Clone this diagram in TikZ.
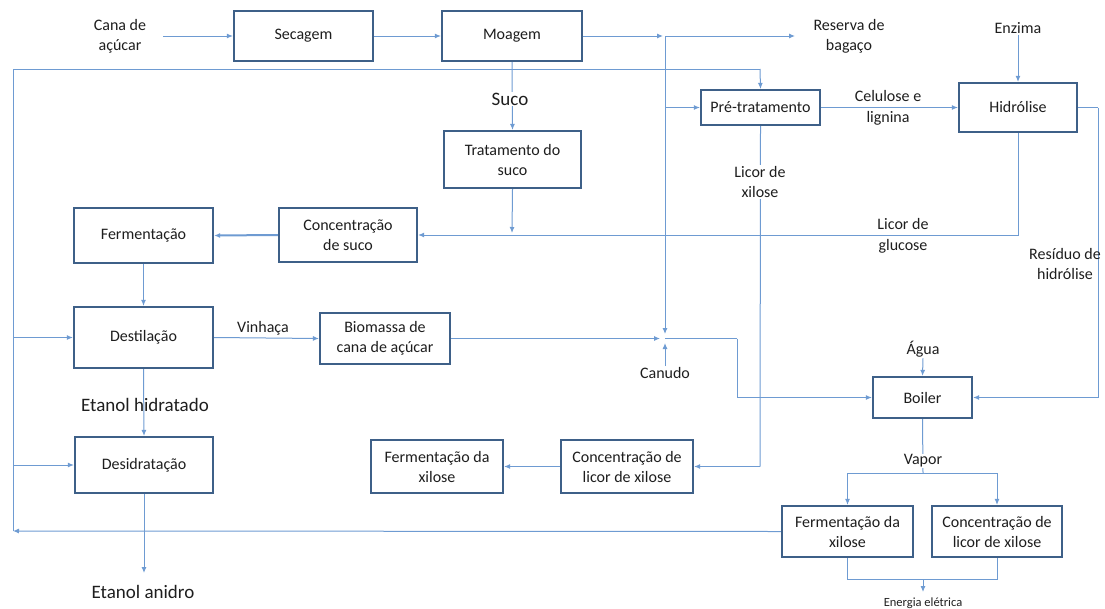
\documentclass[tikz,border=0pt]{standalone}
\usepackage{fontspec}
\setmainfont{Carlito}
\usetikzlibrary{arrows.meta}
\definecolor{boxline}{RGB}{62,96,136}
\definecolor{flow}{RGB}{110,155,210}
\definecolor{ink}{RGB}{30,30,30}
\tikzset{
  unit/.style={draw=boxline, line width=2.2pt, fill=white, align=center, text=ink,
    font=\fontsize{16}{20}\selectfont, inner sep=2pt},
  lbl/.style={align=center, text=ink, font=\fontsize{16}{20}\selectfont, inner sep=1pt},
  biglbl/.style={align=center, text=ink, font=\fontsize{19}{22}\selectfont, inner sep=1pt},
  pipe/.style={draw=flow, line width=1pt},
  feed/.style={pipe, -{Latex[length=6pt,width=5pt]}},
}
\begin{document}
\begin{tikzpicture}[x=1pt,y=-1pt]
\useasboundingbox (0,0) rectangle (1105,608);

% process units
\node[unit, minimum width=139pt, minimum height=50pt] (sec) at (303.5,36) {Secagem};
\node[unit, minimum width=140pt, minimum height=50pt] (moa) at (512,36) {Moagem};
\node[unit, minimum width=119pt, minimum height=35pt] (pre) at (760.5,107.5) {Pré-tratamento};
\node[unit, minimum width=118pt, minimum height=49pt] (hid) at (1018,107.5) {Hidrólise};
\node[unit, minimum width=137pt, minimum height=57pt] (trat) at (512.5,159.5) {Tratamento do\\suco};
\node[unit, minimum width=139pt, minimum height=55pt] (ferm) at (143.5,235.5) {Fermentação};
\node[unit, minimum width=138pt, minimum height=54pt] (csuco) at (348,235) {Concentração\\de suco};
\node[unit, minimum width=139pt, minimum height=61pt] (dest) at (143.5,337.5) {Destilação};
\node[unit, minimum width=130pt, minimum height=51pt] (bio) at (385,338.5) {Biomassa de\\cana de açúcar};
\node[unit, minimum width=99pt, minimum height=41pt] (boil) at (922.5,397.5) {Boiler};
\node[unit, minimum width=138pt, minimum height=56pt] (desid) at (144,465) {Desidratação};
\node[unit, minimum width=132pt, minimum height=53pt] (fxa) at (437,466.5) {Fermentação da\\xilose};
\node[unit, minimum width=132pt, minimum height=53pt] (clxa) at (627,466.5) {Concentração de\\licor de xilose};
\node[unit, minimum width=131pt, minimum height=51pt] (fxb) at (847.5,531.5) {Fermentação da\\xilose};
\node[unit, minimum width=130pt, minimum height=51pt] (clxb) at (997,531.5) {Concentração de\\licor de xilose};

% streams without a unit
\node[lbl] (cana) at (120,36) {Cana de\\açúcar};
\node[lbl] (reserva) at (849,36) {Reserva de\\bagaço};
\node[lbl] (enzima) at (1018,28) {Enzima};
\node[lbl] (canudo) at (665,373) {Canudo};
\node[lbl] (agua) at (923,349) {Água};
\node[biglbl] (anidro) at (143,592) {Etanol anidro};
\node[lbl, font=\fontsize{12.5}{14}\selectfont] (energia) at (923,603) {Energia elétrica};

% junction points
\coordinate (canaout) at (163,36);
\coordinate (bagin) at (663,36);
\coordinate (bagout) at (665,36);
\coordinate (bagend) at (795,36);
\coordinate (bagpre) at (665,107.5);
\coordinate (jc) at (665,338.5);
\coordinate (jcin) at (665,334);
\coordinate (jcup) at (665,343);
\coordinate (jcw) at (660,338.5);
\coordinate (jcturn) at (737,338.5);
\coordinate (recTL) at (13,69);
\coordinate (recTR) at (760,69);
\coordinate (recBL) at (13,531);
\coordinate (recD) at (13,337.5);
\coordinate (recE) at (13,465);
\coordinate (glu) at (512,236);
\coordinate (gluin) at (512,233);
\coordinate (resR) at (1098,107.5);
\coordinate (xil) at (760,466.5);
\coordinate (vsplit) at (923,473);
\coordinate (vL) at (847.5,473);
\coordinate (vR) at (997,473);
\coordinate (eL) at (847.5,579);
\coordinate (eR) at (997,579);
\coordinate (eM) at (923,579);
\coordinate (eOut) at (923,592);
\coordinate (anOut) at (144,573);

% main line
\draw[feed] (canaout) -- (sec.west);
\draw[feed] (sec.east) -- (moa.west);
\draw[feed] (moa.east) -- (bagin);
\draw[feed] (bagout) -- (bagend);
\draw[feed] (bagout) -- (jcin);
\draw[feed] (bagpre) -- (pre.west);
\draw[feed] (moa.south) -- (trat.north);
\node[biglbl, fill=white] (suco) at (510,99) {Suco};
\draw[feed] (trat.south) -- (gluin);

% recycle loop on the left
\draw[pipe] (recBL) -- (recTL) -- (recTR);
\draw[feed] (recTR) -- (pre.north);
\draw[feed] (recD) -- (dest.west);
\draw[feed] (recE) -- (desid.west);
\draw[feed] (fxb.west) -- (recBL);

% juice and ethanol
\draw[feed] (hid.south) |- (csuco.east);
\node[lbl] (glabel) at (903,236) {Licor de\\[1pt]glucose};
\draw[feed, line width=2pt] (csuco.west) -- (ferm.east);
\draw[feed] (ferm.south) -- (dest.north);
\draw[feed] (dest.east) -- (bio.west);
\node[lbl] (vinhaca) at (263,328) {Vinhaça};
\draw[feed] (dest.south) -- (desid.north);
\node[biglbl] (hidratado) at (145,405) {Etanol hidratado};
\draw[feed] (desid.south) -- (anOut);

% biomass to the boiler
\draw[feed] (bio.east) -- (jcw);
\draw[feed] (canudo.north) -- (jcup);
\draw[pipe] (jc) -- (jcturn);
\draw[feed] (jcturn) |- (boil.west);

% lignocellulosic route
\draw[feed] (pre.east) -- (hid.west);
\node[lbl] (celulose) at (888,107.5) {Celulose e\\[1pt]lignina};
\draw[feed] (enzima.south) -- (hid.north);
\draw[pipe] (hid.east) -- (resR);
\draw[feed] (resR) |- (boil.east);
\node[lbl] (residuo) at (1065,264) {Resíduo de\\hidrólise};
\draw[pipe] (pre.south) -- (xil);
\draw[feed] (xil) -- (clxa.east);
\node[lbl, fill=white] (lxil) at (760,182) {Licor de\\xilose};
\draw[feed] (clxa.west) -- (fxa.east);

% steam and power
\draw[feed] (agua.south) -- (boil.north);
\draw[pipe] (boil.south) -- (vsplit);
\draw[pipe] (vL) -- (vR);
\draw[feed] (vL) -- (fxb.north);
\draw[feed] (vR) -- (clxb.north);
\node[lbl, fill=white] (vapor) at (923,461) {Vapor};
\draw[pipe] (fxb.south) -- (eL) -- (eR) -- (clxb.south);
\draw[feed] (eM) -- (eOut);
\end{tikzpicture}
\end{document}
